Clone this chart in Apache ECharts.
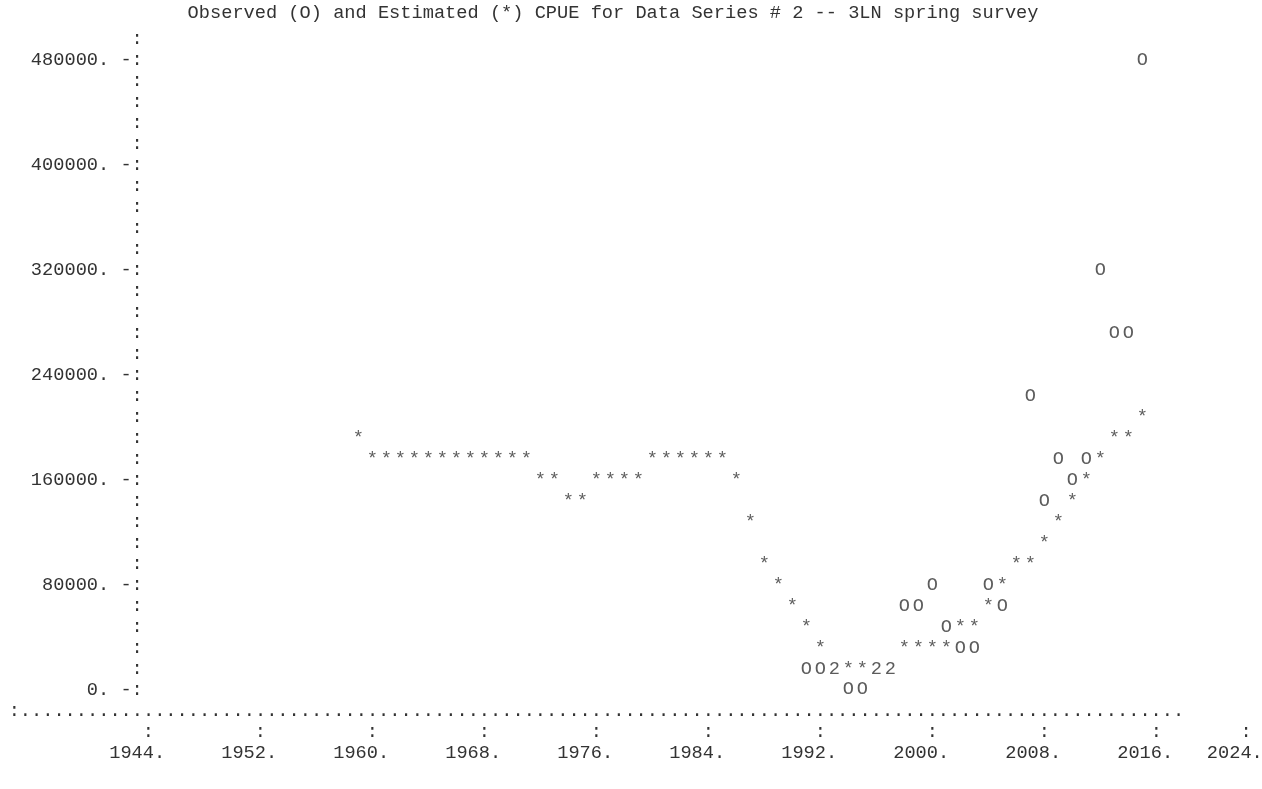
<!DOCTYPE html>
<html>
<head>
<meta charset="utf-8">
<script src="https://cdn.jsdelivr.net/npm/echarts@6/dist/echarts.min.js"></script>
<style>
  html, body { margin: 0; background: #fff; }
  #chart { width: 1262px; height: 789px; }
</style>
</head>
<body>
<div id="chart"></div>
<script>
  // line printer look: one character cell is 11.2px wide, one row is 21px high
  const MONO = 'Liberation Mono, Courier New, monospace';
  const FONT_SIZE = 18.67;
  const INK = '#333';

  const titleText = 'Observed (O) and Estimated (*) CPUE for Data Series # 2 -- 3LN spring survey';

  const xTickYears = [1944, 1952, 1960, 1968, 1976, 1984, 1992, 2000, 2008, 2016];
  const extraTickYear = 2024; // printed past the end of the plot area
  const yRowStep = 16000;
  const yLabelStep = 80000;
  const axisCols = 105; // width of the dotted x axis row, in characters

  const estYears = [
    1959, 1960, 1961, 1962, 1963, 1964, 1965, 1966, 1967, 1968,
    1969, 1970, 1971, 1972, 1973, 1974, 1975, 1976, 1977, 1978,
    1979, 1980, 1981, 1982, 1983, 1984, 1985, 1986, 1987, 1988,
    1989, 1990, 1991, 1992, 1993, 1994, 1995, 1996, 1997, 1998,
    1999, 2000, 2001, 2002, 2003, 2004, 2005, 2006, 2007, 2008,
    2009, 2010, 2011, 2012, 2013, 2014, 2015
  ];
  const estimated = [
    192000, 176000, 176000, 176000, 176000, 176000, 176000, 176000, 176000, 176000,
    176000, 176000, 176000, 160000, 160000, 144000, 144000, 160000, 160000, 160000,
    160000, 176000, 176000, 176000, 176000, 176000, 176000, 160000, 128000, 96000,
    80000, 64000, 48000, 32000, 16000, 16000, 16000, 16000, 16000, 32000,
    32000, 32000, 32000, 48000, 48000, 64000, 80000, 96000, 96000, 112000,
    128000, 144000, 160000, 176000, 192000, 192000, 208000
  ];

  const obsYears = [
    1991, 1992, 1993, 1994, 1995, 1996, 1997, 1998, 1999, 2000,
    2001, 2002, 2003, 2004, 2005, 2006, 2007, 2008, 2009, 2010,
    2011, 2012, 2013, 2014, 2015
  ];
  const observed = [
    16000, 16000, 16000, 1000, 1000, 16000, 16000, 64000, 64000, 80000,
    48000, 32000, 32000, 80000, 64000, null, 224000, 144000, 176000, 160000,
    176000, 320000, 272000, 272000, 480000
  ];

  // a cell holding both an O and a * is printed as "2"
  const rowOf = v => Math.round(v / yRowStep);
  const obsPts = [], estPts = [], bothPts = [];
  const bothYears = {};
  estYears.forEach((yr, i) => {
    const j = obsYears.indexOf(yr);
    const o = j >= 0 ? observed[j] : null;
    if (o != null && rowOf(o) === rowOf(estimated[i])) {
      bothPts.push([yr, estimated[i]]);
      bothYears[yr] = true;
    } else {
      estPts.push([yr, estimated[i]]);
    }
  });
  obsYears.forEach((yr, i) => {
    if (observed[i] != null && !bothYears[yr]) obsPts.push([yr, observed[i]]);
  });

  function charSeries(name, data, ch) {
    return {
      name: name,
      type: 'scatter',
      data: data,
      symbol: 'rect',
      symbolSize: 1,
      silent: true,
      itemStyle: { color: 'rgba(0,0,0,0)' },
      label: {
        show: true,
        position: 'inside',
        formatter: ch,
        fontFamily: MONO,
        fontSize: FONT_SIZE,
        color: INK
      }
    };
  }

  const chart = echarts.init(document.getElementById('chart'));

  const option = {
    animation: false,
    backgroundColor: '#fff',
    title: {
      text: titleText,
      left: 187.6,
      top: 2.5,
      padding: 0,
      textStyle: {
        fontFamily: MONO,
        fontSize: FONT_SIZE,
        fontWeight: 'normal',
        color: INK,
        lineHeight: 21
      }
    },
    grid: {
      left: 8.4,
      right: 77.6,
      top: 39,
      bottom: 78,
      containLabel: false,
      outerBoundsMode: 'none'
    },
    xAxis: {
      type: 'value',
      min: 1934,
      max: 2018,
      // the printed axis row ":......" is the axis name
      name: ':' + '.'.repeat(axisCols - 1),
      nameLocation: 'middle',
      nameGap: 0,
      nameMoveOverlap: false,
      nameTextStyle: {
        fontFamily: MONO,
        fontSize: FONT_SIZE,
        color: INK,
        align: 'center',
        verticalAlign: 'middle'
      },
      splitLine: { show: false },
      axisTick: { show: false },
      axisLine: { show: false, onZero: false },
      axisLabel: {
        customValues: xTickYears,
        margin: 10.5,
        fontFamily: MONO,
        fontSize: FONT_SIZE,
        color: INK,
        lineHeight: 21,
        align: 'center',
        padding: [0, 22.4, 0, 0],
        formatter: v => '   : \n' + v + '.'
      }
    },
    yAxis: {
      type: 'value',
      min: -yRowStep,
      max: 31 * yRowStep,
      interval: yRowStep,
      offset: -134.4,
      splitLine: { show: false },
      axisTick: { show: false },
      axisLine: { show: false },
      axisLabel: {
        margin: 0,
        fontFamily: MONO,
        fontSize: FONT_SIZE,
        color: INK,
        formatter: v => {
          if (v < 0) return '';
          return v % yLabelStep === 0 ? v + '. -:' : ':';
        }
      }
    },
    graphic: [
      {
        type: 'text',
        left: 1206.8,
        top: 721.5,
        silent: true,
        style: {
          text: '   : \n' + extraTickYear + '.',
          font: FONT_SIZE + 'px ' + MONO,
          fill: INK,
          lineHeight: 21
        }
      }
    ],
    series: [
      charSeries('Estimated', estPts, '*'),
      charSeries('Observed', obsPts, 'O'),
      charSeries('Both', bothPts, '2')
    ]
  };

  chart.setOption(option);
</script>
</body>
</html>
